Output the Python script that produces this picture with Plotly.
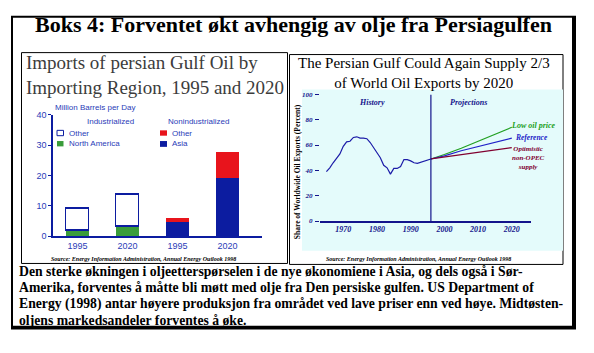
import plotly.graph_objects as go

W, H = 594, 353
def X(px): return px / W
def Y(py): return 1 - py / H

# ---------------- data ----------------
bar_categories = ["1995", "2020", "1995", "2020"]
ind_positions = [0, 1]
dev_positions = [2, 3]
ind_north_america = [1.8, 3.1]
ind_other = [7.4, 10.6]
dev_asia = [4.9, 19.3]
dev_other = [1.1, 8.4]
bar_yticks = [0, 10, 20, 30, 40]

hist_years = [1965, 1966, 1967, 1968, 1969, 1970, 1971, 1972, 1973, 1974, 1975, 1976,
              1977, 1978, 1979, 1980, 1981, 1982, 1983, 1984, 1985, 1986, 1987, 1988,
              1989, 1990, 1991, 1992, 1993, 1994, 1995, 1996]
hist_share = [39, 42, 46, 50, 53, 59, 62.5, 63, 66, 66.5, 65.5, 65.5,
              65, 62, 58, 53, 50, 44, 42, 37, 41.5, 41.5, 43, 48.5,
              48.5, 47.5, 46, 45.5, 46.5, 47.5, 48, 49]
proj_years = [1996, 2000, 2005, 2010, 2015, 2020]
proj_low_price = [49, 52.5, 57.5, 63, 68.5, 74]
proj_reference = [49, 51.5, 55.5, 59, 62.5, 65.5]
proj_optimistic = [49, 50.5, 52.5, 54.5, 56.5, 58]
line_xticks = [1970, 1980, 1990, 2000, 2010, 2020]
line_yticks = [0, 20, 40, 60, 80, 100]
split_year = 1996

SERIF = "Liberation Serif"
NAVY = "#14148c"
BARBLUE = "#0c1ca0"
LBLUE = "#2a3cb8"

fig = go.Figure()

# ---------------- bar chart (left) ----------------
fig.add_trace(go.Bar(x=ind_positions, y=ind_north_america, width=0.46,
                     marker=dict(color="#3a9c3a", line=dict(width=0)),
                     xaxis="x", yaxis="y", showlegend=False))
fig.add_trace(go.Bar(x=ind_positions, y=ind_other, width=0.46,
                     marker=dict(color="white", line=dict(color=BARBLUE, width=1.5)),
                     xaxis="x", yaxis="y", showlegend=False))
fig.add_trace(go.Bar(x=dev_positions, y=dev_asia, width=0.46,
                     marker=dict(color=BARBLUE, line=dict(width=0)),
                     xaxis="x", yaxis="y", showlegend=False))
fig.add_trace(go.Bar(x=dev_positions, y=dev_other, width=0.46,
                     marker=dict(color="#e8141c", line=dict(width=0)),
                     xaxis="x", yaxis="y", showlegend=False))

# ---------------- line chart (right) ----------------
fig.add_trace(go.Scatter(x=hist_years, y=hist_share, mode="lines",
                         line=dict(color="#1c1ca8", width=1.2),
                         xaxis="x2", yaxis="y2", showlegend=False))
fig.add_trace(go.Scatter(x=proj_years, y=proj_low_price, mode="lines",
                         line=dict(color="#22a022", width=1.2),
                         xaxis="x2", yaxis="y2", showlegend=False))
fig.add_trace(go.Scatter(x=proj_years, y=proj_reference, mode="lines",
                         line=dict(color="#2222c8", width=1.2),
                         xaxis="x2", yaxis="y2", showlegend=False))
fig.add_trace(go.Scatter(x=proj_years, y=proj_optimistic, mode="lines",
                         line=dict(color="#800030", width=1.2),
                         xaxis="x2", yaxis="y2", showlegend=False))

shapes = [
    # outer box with shadow
    dict(type="rect", xref="paper", yref="paper", x0=X(11), x1=X(576), y0=Y(334), y1=Y(11),
         fillcolor="black", line=dict(width=0), layer="below"),
    dict(type="rect", xref="paper", yref="paper", x0=X(13), x1=X(572), y0=Y(330), y1=Y(13),
         fillcolor="white", line=dict(width=0), layer="below"),
    # panels
    dict(type="rect", xref="paper", yref="paper", x0=X(21.5), x1=X(287.5), y0=Y(266), y1=Y(49),
         fillcolor="white", line=dict(color="black", width=1), layer="below"),
    dict(type="rect", xref="paper", yref="paper", x0=X(289.5), x1=X(563), y0=Y(267), y1=Y(51),
         fillcolor="white", line=dict(color="black", width=1), layer="below"),
    # cyan plot background right
    dict(type="rect", xref="paper", yref="paper", x0=X(302), x1=X(563), y0=Y(253), y1=Y(87),
         fillcolor="#e4fbfb", line=dict(width=0), layer="below"),
    # split line
    dict(type="line", xref="x2", yref="y2", x0=split_year, x1=split_year, y0=0, y1=100,
         line=dict(color=NAVY, width=1.2)),
    # legend boxes left chart
    dict(type="rect", xref="paper", yref="paper", x0=X(57), x1=X(63.5), y0=Y(134.5), y1=Y(129),
         fillcolor="white", line=dict(color=BARBLUE, width=1)),
    dict(type="rect", xref="paper", yref="paper", x0=X(57), x1=X(63.5), y0=Y(145.5), y1=Y(140),
         fillcolor="#3a9c3a", line=dict(width=0)),
    dict(type="rect", xref="paper", yref="paper", x0=X(160), x1=X(167), y0=Y(134.5), y1=Y(129),
         fillcolor="#e8141c", line=dict(width=0)),
    dict(type="rect", xref="paper", yref="paper", x0=X(160), x1=X(167), y0=Y(146), y1=Y(140),
         fillcolor=BARBLUE, line=dict(width=0)),
]

def ann(text, x, y, size, color="black", xanchor="center", yanchor="middle",
        family=SERIF, weight="normal", style="normal", textangle=0, align="center"):
    return dict(text=text, x=X(x), y=Y(y), xref="paper", yref="paper", showarrow=False,
                xanchor=xanchor, yanchor=yanchor, textangle=textangle, align=align,
                font=dict(family=family, size=size, color=color, weight=weight, style=style))

caption = [
    "Den sterke økningen i oljeetterspørselen i de nye økonomiene i Asia, og dels også i Sør-",
    "Amerika, forventes å måtte bli møtt med olje fra Den persiske gulfen. US Department of",
    "Energy (1998) antar høyere produksjon fra området ved lave priser enn ved høye. Midtøsten-",
    "oljens markedsandeler forventes å øke.",
]

annotations = [
    ann("Boks 4: Forventet økt avhengig av olje fra Persiagulfen", 293, 20, 22, weight="bold"),
    # left title
    ann("Imports of persian Gulf Oil by<br>Importing Region, 1995 and 2020", 24, 72, 19,
        color="#3c3c3c", xanchor="left", align="left"),
    ann("Million Barrels per Day", 53, 106, 8, color=LBLUE, xanchor="left", family="Liberation Sans"),
    ann("Industrialized", 110, 120, 8, color=LBLUE, family="Liberation Sans"),
    ann("Nonindustrialized", 198, 120, 8, color=LBLUE, family="Liberation Sans"),
    ann("Other", 67, 132, 8, color=LBLUE, xanchor="left", family="Liberation Sans"),
    ann("North America", 67, 143, 8, color=LBLUE, xanchor="left", family="Liberation Sans"),
    ann("Other", 170, 132, 8, color=LBLUE, xanchor="left", family="Liberation Sans"),
    ann("Asia", 170, 143, 8, color=LBLUE, xanchor="left", family="Liberation Sans"),
    ann("Source: Energy Information Administration, Annual Energy Outlook 1998", 143, 261, 6,
        style="italic", weight="bold"),
    # right title
    ann("The Persian Gulf Could Again Supply 2/3<br>of World Oil Exports by 2020", 424, 70, 15),
    ann("Share of Worldwide Oil Exports (Percent)", 297, 172, 7.5, weight="bold", textangle=-90),
    ann("History", 372, 100, 8, color=NAVY, weight="bold", style="italic"),
    ann("Projections", 468, 100, 8, color=NAVY, weight="bold", style="italic"),
    ann("Low oil price", 533, 124, 8, color="#22a022", weight="bold", style="italic"),
    ann("Reference", 531, 136, 7.5, color="#2222c8", weight="bold", style="italic"),
    ann("Optimistic<br>non-OPEC<br>supply", 528, 157, 7, color="#800030", weight="bold", style="italic"),
    ann("Source: Energy Information Administration, Annual Energy Outlook 1998", 418, 261, 6,
        style="italic", weight="bold"),
]
for i, line in enumerate(caption):
    annotations.append(ann(line, 17, 274 + 17 * i, 13.7, weight="bold", xanchor="left"))

fig.update_layout(
    width=W, height=H, margin=dict(l=0, r=0, t=0, b=0),
    paper_bgcolor="white", plot_bgcolor="rgba(0,0,0,0)",
    barmode="stack", bargap=0,
    shapes=shapes, annotations=annotations,
    xaxis=dict(domain=[X(53), X(262)], range=[-0.49, 3.69], tickvals=[0, 1, 2, 3],
               ticktext=bar_categories, showline=True, linecolor=BARBLUE, linewidth=1.5,
               showgrid=False, zeroline=False, ticks="",
               tickfont=dict(family="Liberation Sans", size=9, color=LBLUE), anchor="y"),
    yaxis=dict(domain=[Y(238), Y(113)], range=[0, 40], tickvals=bar_yticks,
               showline=True, linecolor=BARBLUE, linewidth=1.5, showgrid=False, zeroline=False,
               ticks="outside", ticklen=3, tickcolor=BARBLUE,
               tickfont=dict(family="Liberation Sans", size=9, color=LBLUE), anchor="x"),
    xaxis2=dict(domain=[X(320), X(531)], range=[1963.1, 2025.7], tickvals=line_xticks,
                showline=True, linecolor=NAVY, linewidth=1.5, showgrid=False, zeroline=False,
                ticks="", tickfont=dict(family=SERIF, size=8, color=NAVY, weight="bold", style="italic"),
                anchor="y2"),
    yaxis2=dict(domain=[Y(222.3), Y(92)], range=[0, 100], tickvals=line_yticks,
                showline=False, showgrid=False, zeroline=False,
                ticks="outside", ticklen=4, tickcolor=NAVY, ticklabelstandoff=1,
                tickfont=dict(family=SERIF, size=7, color=NAVY, weight="bold", style="italic"),
                anchor="x2", position=X(318)),
)

fig.write_html("out.html")
